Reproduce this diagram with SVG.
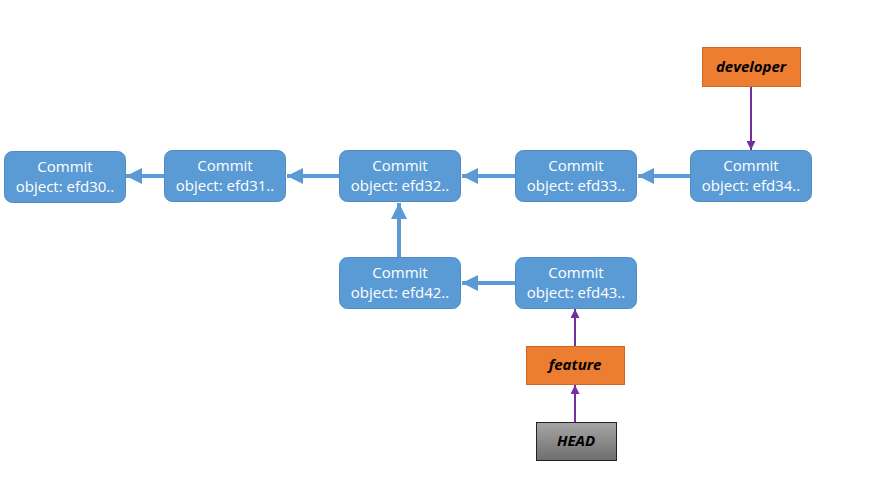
<svg xmlns="http://www.w3.org/2000/svg" width="877" height="485" viewBox="0 0 877 485">
<defs>
<style>
.c rect{fill:#5b9bd5;stroke:#4f8cc4;stroke-width:1}
.c text{fill:#fff;font-family:"Open Sans","Liberation Sans",sans-serif;font-size:15px;text-anchor:middle}
.tag text{fill:#000;font-family:"Open Sans","Liberation Sans",sans-serif;font-size:15px;font-weight:bold;font-style:italic;text-anchor:middle}
.blue{stroke:#5b9bd5;stroke-width:4;fill:none}
.purple{stroke:#7030a0;stroke-width:2;fill:none}
</style>
<marker id="ab" viewBox="0 0 10 10" refX="10" refY="5" markerWidth="4" markerHeight="4" orient="auto" markerUnits="strokeWidth">
<path d="M0,0 L10,5 L0,10 z" fill="#5b9bd5"/>
</marker>
<marker id="ap" viewBox="0 0 10 10" refX="10" refY="5" markerWidth="4.5" markerHeight="4.5" orient="auto" markerUnits="strokeWidth">
<path d="M0,0 L10,5 L0,10 z" fill="#7030a0"/>
</marker>
<linearGradient id="gh" x1="0" y1="0" x2="0" y2="1">
<stop offset="0" stop-color="#a6a6a6"/>
<stop offset="1" stop-color="#6e6e6e"/>
</linearGradient>
</defs>
<rect width="877" height="485" fill="#fff"/>
<g id="connectors">
<line class="blue" x1="164" y1="176" x2="126" y2="176" marker-end="url(#ab)"/>
<line class="blue" x1="339" y1="176" x2="287" y2="176" marker-end="url(#ab)"/>
<line class="blue" x1="515" y1="176" x2="462" y2="176" marker-end="url(#ab)"/>
<line class="blue" x1="690" y1="176" x2="638" y2="176" marker-end="url(#ab)"/>
<line class="blue" x1="515" y1="283" x2="462" y2="283" marker-end="url(#ab)"/>
<line class="blue" x1="399" y1="257" x2="399" y2="203" marker-end="url(#ab)"/>
<line class="purple" x1="751" y1="86" x2="751" y2="150" marker-end="url(#ap)"/>
<line class="purple" x1="575" y1="346" x2="575" y2="309" marker-end="url(#ap)"/>
<line class="purple" x1="575" y1="422" x2="575" y2="385" marker-end="url(#ap)"/>
</g>
<g id="efd30" class="c"><rect x="4.5" y="151.5" width="121" height="51" rx="8"/><text x="65" y="172">Commit</text><text x="65" y="192">object: efd30..</text></g>
<g id="efd31" class="c"><rect x="164.5" y="150.5" width="121" height="51" rx="8"/><text x="225" y="171">Commit</text><text x="225" y="191">object: efd31..</text></g>
<g id="efd32" class="c"><rect x="339.5" y="150.5" width="121" height="51" rx="8"/><text x="400" y="171">Commit</text><text x="400" y="191">object: efd32..</text></g>
<g id="efd33" class="c"><rect x="515.5" y="150.5" width="121" height="51" rx="8"/><text x="576" y="171">Commit</text><text x="576" y="191">object: efd33..</text></g>
<g id="efd34" class="c"><rect x="690.5" y="150.5" width="121" height="51" rx="8"/><text x="751" y="171">Commit</text><text x="751" y="191">object: efd34..</text></g>
<g id="efd42" class="c"><rect x="339.5" y="257.5" width="121" height="51" rx="8"/><text x="400" y="278">Commit</text><text x="400" y="298">object: efd42..</text></g>
<g id="efd43" class="c"><rect x="515.5" y="257.5" width="121" height="51" rx="8"/><text x="576" y="278">Commit</text><text x="576" y="298">object: efd43..</text></g>
<g id="developer" class="tag"><rect x="702.5" y="47.5" width="98" height="39" fill="#ed7d31" stroke="#c8692a"/><text x="751" y="72">developer</text></g>
<g id="feature" class="tag"><rect x="526.5" y="346.5" width="98" height="38" fill="#ed7d31" stroke="#c8692a"/><text x="575" y="370">feature</text></g>
<g id="HEAD" class="tag"><rect x="536.5" y="422.5" width="80" height="38" fill="url(#gh)" stroke="#222"/><text x="576" y="446">HEAD</text></g>
</svg>
